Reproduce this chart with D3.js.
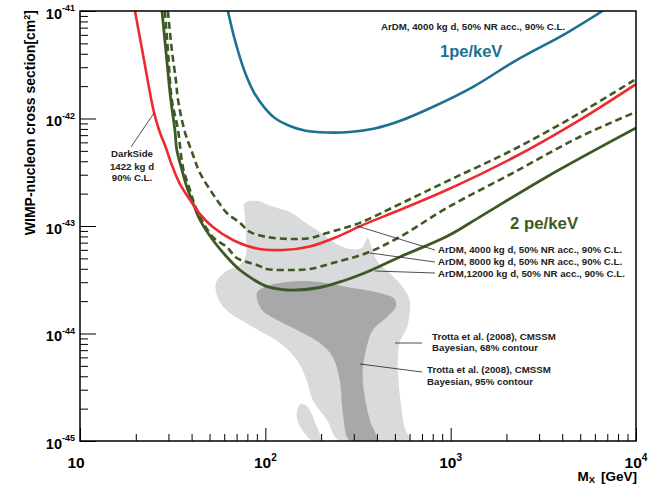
<!DOCTYPE html>
<html>
<head>
<meta charset="utf-8">
<script src="https://cdn.jsdelivr.net/npm/d3@7"></script>
<style>
  body { margin: 0; background: #fff; }
  text { font-family: "Liberation Sans", Arial, Helvetica, sans-serif; font-weight: bold; }
</style>
</head>
<body>
<div id="chart"></div>
<script>
const width = 650, height = 485;
const margin = { top: 11, right: 14, bottom: 44, left: 80 };

// limit curves, [mass in GeV, cross section in cm^2]
const darkSide = [[19.8, 1e-41], [21.06, 5.61e-42], [22.4, 3.15e-42], [23.7, 1.84e-42], [25.05, 1.15e-42],
    [26.7, 7.82e-43], [29.1, 5.32e-43], [31.3, 3.69e-43], [34.6, 2.46e-43], [39.2, 1.75e-43], [44.4, 1.29e-43],
    [52.1, 9.79e-44], [66.8, 7.41e-44], [90, 6.17e-44], [124, 5.98e-44], [174, 6.45e-44], [243, 7.9e-44],
    [335, 1.02e-43], [531, 1.41e-43], [952, 2.16e-43], [2160, 4.29e-43], [4960, 9.68e-43], [10000, 2.09e-42]];

const ardm4000 = [[29.8, 1e-41], [31.3, 4.34e-42], [32.9, 2.28e-42], [33.8, 1.49e-42], [36.8, 7.49e-43],
    [40.2, 4.88e-43], [44.4, 3.11e-43], [54.8, 1.75e-43], [62.0, 1.32e-43], [72.9, 1.07e-43], [82.5, 8.8e-44],
    [102, 7.9e-44], [136, 7.57e-44], [174, 7.73e-44], [215, 8.61e-44], [323, 1.07e-43], [531, 1.6e-43],
    [988, 2.68e-43], [2160, 5.09e-43], [4960, 1.12e-42], [10000, 2.33e-42]];

const ardm8000 = [[28.7, 1e-41], [29.8, 4.34e-42], [31.3, 1.49e-42], [33.8, 7.82e-43], [35.9, 3.54e-43],
    [39.2, 2.16e-43], [42.7, 1.41e-43], [52.1, 7.9e-44], [62.0, 6.38e-44], [70.2, 5.04e-44], [90, 4.34e-44],
    [102, 3.98e-44], [139, 3.9e-44], [174, 3.98e-44], [231, 4.53e-44], [352, 5.61e-44], [531, 7.9e-44],
    [952, 1.47e-43], [2160, 3.11e-43], [4960, 6.73e-43], [10000, 1.15e-42]];

const ardm12000 = [[27.7, 1e-41], [29.4, 3.5e-42], [30.9, 1.49e-42], [32.5, 7.82e-43], [33.3, 5.09e-43],
    [35.5, 3.32e-43], [37.7, 2.31e-43], [40.7, 1.64e-43], [44.4, 1.14e-43], [52.1, 7.41e-44], [62.0, 5.15e-44],
    [72.9, 3.9e-44], [82.5, 3.35e-44], [100, 2.77e-44], [131, 2.54e-44], [190, 2.65e-44], [262, 3.08e-44],
    [375, 3.9e-44], [531, 5.15e-44], [963, 8.07e-44], [1433, 1.21e-43], [3293, 2.86e-43], [10000, 8.16e-43]];

const ardm1pe = [[62.8, 1e-41], [68.5, 5.37e-42], [77.5, 2.71e-42], [87.8, 1.69e-42], [99.4, 1.25e-42],
    [112.5, 1.01e-42], [135.6, 8.52e-43], [163, 7.74e-43], [215, 7.41e-43], [286, 7.49e-43], [389, 8.07e-43],
    [531, 9.48e-43], [800, 1.28e-42], [1314, 1.96e-42], [2269, 3.5e-42], [4221, 6.24e-42], [6598, 1e-41]];

// CMSSM regions (Trotta et al. 2008)
const trottaOuter = [[77.5, 1.64e-43], [91.1, 1.71e-43], [108, 1.53e-43], [136, 1.35e-43], [163, 1.09e-43],
    [197, 8.8e-44], [237, 6.95e-44], [286, 6.11e-44], [331, 6.24e-44], [357, 7.73e-44], [375, 6.24e-44],
    [404, 4.63e-44], [481, 3.5e-44], [551, 2.71e-44], [601, 2.05e-44], [601, 1.58e-44], [579, 1.12e-44],
    [531, 8.34e-45], [518, 5.67e-45], [525, 3.32e-45], [544, 1.94e-45], [565, 1.32e-45], [601, 1e-45],
    [252, 1e-45], [215, 1.57e-45], [180, 2.41e-45], [167, 3.69e-45], [148, 5.67e-45], [120, 8.16e-45],
    [85.6, 1.15e-44], [64.4, 1.55e-44], [58.3, 1.84e-44], [54.8, 2.28e-44], [54.1, 2.95e-44], [60.5, 3.73e-44],
    [72.9, 4.34e-44], [78.5, 5.37e-44], [78.5, 8.25e-44], [77.5, 1.27e-43]];

const trottaIsland = [[155, 2.21e-45], [167, 2.12e-45], [178, 1.78e-45], [187, 1.44e-45], [197, 1.16e-45],
    [202, 1e-45], [180, 1e-45], [161, 1.21e-45], [150, 1.5e-45], [148, 1.86e-45]];

const trottaInner = [[90, 2.38e-44], [99.4, 2.71e-44], [120, 2.95e-44], [154, 3.08e-44], [197, 3.01e-44],
    [275, 2.71e-44], [414, 2.38e-44], [499, 2.09e-44], [505, 1.76e-44], [452, 1.42e-44], [380, 1.08e-44],
    [352, 7.49e-45], [335, 4.29e-45], [344, 2.57e-45], [366, 1.57e-45], [399, 1e-45], [286, 1e-45],
    [262, 1.82e-45], [252, 3.69e-45], [231, 6.05e-45], [197, 8.16e-45], [148, 1.08e-44], [115, 1.34e-44],
    [96, 1.65e-44]];

const xTicks = [10, 100, 1000, 10000];
const xTickSup = ["", "2", "3", "4"];
const yTicks = [1e-45, 1e-44, 1e-43, 1e-42, 1e-41];
const yTickSup = ["-45", "-44", "-43", "-42", "-41"];

const colors = {
    red: "#ee2a2e",
    green: "#3e5a23",
    blue: "#1c7192",
    light: "#d9dadc",
    dark: "#a7a8aa"
};

const svg = d3.select("#chart").append("svg")
    .attr("width", width)
    .attr("height", height);

const x = d3.scaleLog().domain([10, 1e4]).range([margin.left, width - margin.right]);
const y = d3.scaleLog().domain([1e-45, 1e-41]).range([height - margin.bottom, margin.top]);

svg.append("defs").append("clipPath").attr("id", "plot-clip")
    .append("rect")
    .attr("x", margin.left).attr("y", margin.top)
    .attr("width", width - margin.left - margin.right)
    .attr("height", height - margin.top - margin.bottom);

const plot = svg.append("g").attr("clip-path", "url(#plot-clip)");

const shape = d3.line().x(d => x(d[0])).y(d => y(d[1])).curve(d3.curveCatmullRomClosed.alpha(0.5));
const line = d3.line().x(d => x(d[0])).y(d => y(d[1])).curve(d3.curveCatmullRom.alpha(0.5));

// regions
plot.append("path").datum(trottaOuter).attr("d", shape).attr("fill", colors.light);
plot.append("path").datum(trottaIsland).attr("d", shape).attr("fill", colors.light);
plot.append("path").datum(trottaInner).attr("d", shape).attr("fill", colors.dark);

// curves
const curves = [
    { data: ardm1pe, color: colors.blue, w: 2.6 },
    { data: ardm4000, color: colors.green, w: 2.6, dash: "7,4" },
    { data: ardm8000, color: colors.green, w: 2.6, dash: "7,4" },
    { data: ardm12000, color: colors.green, w: 2.8 },
    { data: darkSide, color: colors.red, w: 2.6 }
];

plot.selectAll("path.curve")
    .data(curves)
    .join("path")
    .attr("class", "curve")
    .attr("d", d => line(d.data))
    .attr("fill", "none")
    .attr("stroke", d => d.color)
    .attr("stroke-width", d => d.w)
    .attr("stroke-dasharray", d => d.dash || null);

// axes (ticks point inward)
const xMinor = [];
for (let d = 10; d < 1e4; d *= 10) for (let k = 2; k < 10; k++) xMinor.push(k * d);
const yMinor = [];
for (let e = -45; e < -41; e++) for (let k = 2; k < 10; k++) yMinor.push(k * Math.pow(10, e));

const yBottom = height - margin.bottom;
svg.append("g").attr("transform", `translate(0,${yBottom})`)
    .call(d3.axisBottom(x).tickValues(xMinor).tickSize(-7).tickFormat(""))
    .call(g => g.select(".domain").remove());
svg.append("g").attr("transform", `translate(0,${yBottom})`)
    .call(d3.axisBottom(x).tickValues(xTicks).tickSize(-13).tickFormat(""))
    .call(g => g.select(".domain").remove());
svg.append("g").attr("transform", `translate(${margin.left},0)`)
    .call(d3.axisLeft(y).tickValues(yMinor).tickSize(-8).tickFormat(""))
    .call(g => g.select(".domain").remove());
svg.append("g").attr("transform", `translate(${margin.left},0)`)
    .call(d3.axisLeft(y).tickValues(yTicks).tickSize(-16).tickFormat(""))
    .call(g => g.select(".domain").remove());
svg.selectAll(".tick line").attr("stroke-width", 1);

svg.append("rect")
    .attr("x", margin.left).attr("y", margin.top)
    .attr("width", width - margin.left - margin.right)
    .attr("height", height - margin.top - margin.bottom)
    .attr("fill", "none").attr("stroke", "#000").attr("stroke-width", 1.5);

// tick labels
xTicks.forEach((t, i) => {
    const tx = svg.append("text")
        .attr("x", x(t) + (xTickSup[i] ? 0 : -4))
        .attr("y", yBottom + 26.5)
        .attr("text-anchor", "middle")
        .attr("font-size", 15.5);
    tx.append("tspan").text("10");
    if (xTickSup[i]) tx.append("tspan").attr("dy", -7).attr("font-size", 10).text(xTickSup[i]);
});

yTicks.forEach((t, i) => {
    const ty = svg.append("text")
        .attr("x", margin.left - 5)
        .attr("y", y(t) + 7.5)
        .attr("text-anchor", "end")
        .attr("font-size", 14.5);
    ty.append("tspan").text("10");
    ty.append("tspan").attr("dy", -7.5).attr("font-size", 9).text(yTickSup[i]);
});

// axis titles
const xt = svg.append("text")
    .attr("x", width - margin.right + 1)
    .attr("y", 481)
    .attr("text-anchor", "end")
    .attr("font-size", 13.5);
xt.append("tspan").text("M");
xt.append("tspan").attr("dy", 1.5).attr("font-size", 9.5).text("X");
xt.append("tspan").attr("dy", -1.5).attr("dx", 6).text("[GeV]");

const yt = svg.append("text")
    .attr("transform", "translate(35,10) rotate(-90)")
    .attr("text-anchor", "end")
    .attr("font-size", 14);
yt.append("tspan").text("WIMP-nucleon cross section[cm");
yt.append("tspan").attr("dy", -5).attr("font-size", 9).text("2");
yt.append("tspan").attr("dy", 5).text("]");

// annotations
const note = (tx, ty, str, opts = {}) => svg.append("text")
    .attr("x", tx).attr("y", ty)
    .attr("text-anchor", opts.anchor || "start")
    .attr("font-size", opts.size || 9.7)
    .attr("fill", opts.color || "#222")
    .text(str);

const leader = (x1, y1, x2, y2) => svg.append("line")
    .attr("x1", x1).attr("y1", y1).attr("x2", x2).attr("y2", y2)
    .attr("stroke", "#222").attr("stroke-width", 0.8);

note(381, 29.5, "ArDM, 4000 kg d, 50% NR acc., 90% C.L.");
note(440, 57, "1pe/keV", { size: 16.5, color: colors.blue });
note(510, 229, "2 pe/keV", { size: 16.8, color: colors.green });

note(132, 156.5, "DarkSide", { anchor: "middle" });
note(132, 169.5, "1422 kg d", { anchor: "middle" });
note(132, 181, "90% C.L.", { anchor: "middle" });
leader(131, 147, 154, 113);

note(438, 252.5, "ArDM, 4000 kg d, 50% NR acc., 90% C.L.");
note(438, 264.5, "ArDM, 8000 kg d, 50% NR acc., 90% C.L.");
note(438, 276.5, "ArDM,12000 kg d, 50% NR acc., 90% C.L.");
leader(357, 226, 435, 250);
leader(370, 253, 435, 262);
leader(375, 271, 435, 273);

note(432, 339.5, "Trotta et al. (2008), CMSSM");
note(432, 351, "Bayesian, 68% contour");
leader(395, 343, 422, 343);
note(427, 372.5, "Trotta et al. (2008), CMSSM");
note(427, 384.5, "Bayesian, 95% contour");
leader(360, 364, 422, 372);
</script>
</body>
</html>
